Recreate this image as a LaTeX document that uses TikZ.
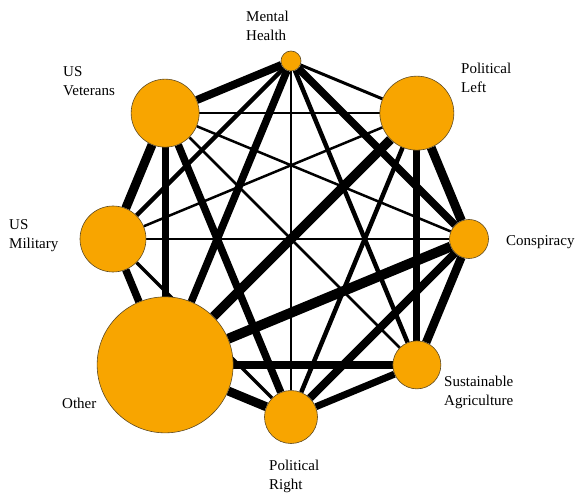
\documentclass[tikz,border=0pt]{standalone}
\usepackage{fontspec}
\setmainfont{Liberation Serif}
\usetikzlibrary{backgrounds}
\definecolor{dotorange}{RGB}{248,165,0}
\definecolor{dotrim}{RGB}{95,75,35}
\tikzset{
	dot/.style={circle, fill=dotorange, draw=dotrim, line width=0.6pt, inner sep=0pt},
	tag/.style={anchor=west, align=left, inner sep=0pt, font=\fontsize{15}{19}\selectfont}
}
\begin{document}
\begin{tikzpicture}[x=1pt, y=1pt]
			\useasboundingbox (-291, -256) rectangle (284, 239);
			\foreach \n/\a/\r in {mh/90/10, pl/45/37, con/0/19.5, sa/-45/24, pr/-90/26.5, oth/-135/68, um/180/33, uv/135/34}
				\node[dot, minimum size=2*\r] (\n) at (\a:178) {};
			\begin{pgfonlayer}{background}
				\foreach \a/\b/\w in {mh/pl/3, mh/uv/8, mh/con/7.5, mh/um/4.5, mh/sa/4.5, mh/oth/7.5, mh/pr/2.5,
						pl/uv/2.5, pl/con/9, pl/sa/7, pl/pr/4.5, pl/oth/9.5, pl/um/2.5,
						con/sa/8.5, con/pr/8, con/oth/10, con/um/2.5, con/uv/2.5,
						sa/pr/7, sa/oth/8, sa/uv/2.5,
						pr/oth/9, pr/um/3.5, pr/uv/7.5,
						oth/um/7.5, oth/uv/7, um/uv/9}
					\draw[line width=\w pt] (\a) -- (\b);
			\end{pgfonlayer}
			\node[tag] (mhtag) at (-45, 213) {Mental\\Health};
			\node[tag] (pltag) at (170, 161.5) {Political\\Left};
			\node[tag] (contag) at (215, -3) {Conspiracy};
			\node[tag] (satag) at (153, -153) {Sustainable\\Agriculture};
			\node[tag] (prtag) at (-22, -237.5) {Political\\Right};
			\node[tag] (othtag) at (-229, -164) {Other};
			\node[tag] (umtag) at (-282, 3) {US\\Military};
			\node[tag] (uvtag) at (-228, 158) {US\\Veterans};
		\end{tikzpicture}
\end{document}
